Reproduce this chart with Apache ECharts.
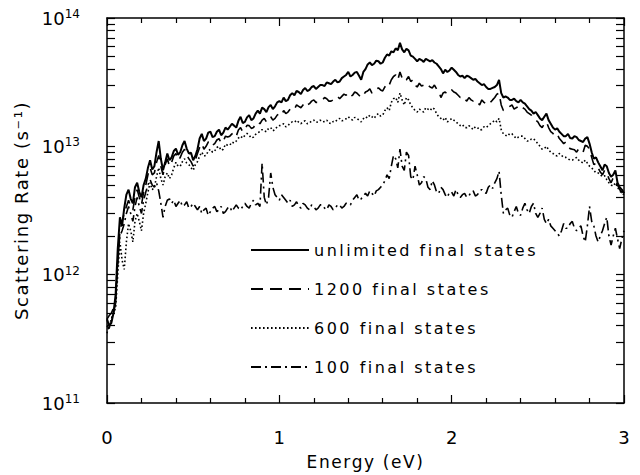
<!DOCTYPE html>
<html>
<head>
<meta charset="utf-8">
<script src="https://cdn.jsdelivr.net/npm/echarts@6/dist/echarts.min.js"></script>
<style>
  html, body { margin: 0; padding: 0; background: #fff; }
  #chart { width: 640px; height: 475px; }
</style>
</head>
<body>
<div id="chart"></div>
<script>
// Electron energy grid (eV), 12.5 meV steps
const energy = [
  0, 0.0125, 0.025, 0.0375, 0.05, 0.0625, 0.075, 0.0875,
  0.1, 0.1125, 0.125, 0.1375, 0.15, 0.1625, 0.175, 0.1875,
  0.2, 0.2125, 0.225, 0.2375, 0.25, 0.2625, 0.275, 0.2875,
  0.3, 0.3125, 0.325, 0.3375, 0.35, 0.3625, 0.375, 0.3875,
  0.4, 0.4125, 0.425, 0.4375, 0.45, 0.4625, 0.475, 0.4875,
  0.5, 0.5125, 0.525, 0.5375, 0.55, 0.5625, 0.575, 0.5875,
  0.6, 0.6125, 0.625, 0.6375, 0.65, 0.6625, 0.675, 0.6875,
  0.7, 0.7125, 0.725, 0.7375, 0.75, 0.7625, 0.775, 0.7875,
  0.8, 0.8125, 0.825, 0.8375, 0.85, 0.8625, 0.875, 0.8875,
  0.9, 0.9125, 0.925, 0.9375, 0.95, 0.9625, 0.975, 0.9875,
  1, 1.0125, 1.025, 1.0375, 1.05, 1.0625, 1.075, 1.0875,
  1.1, 1.1125, 1.125, 1.1375, 1.15, 1.1625, 1.175, 1.1875,
  1.2, 1.2125, 1.225, 1.2375, 1.25, 1.2625, 1.275, 1.2875,
  1.3, 1.3125, 1.325, 1.3375, 1.35, 1.3625, 1.375, 1.3875,
  1.4, 1.4125, 1.425, 1.4375, 1.45, 1.4625, 1.475, 1.4875,
  1.5, 1.5125, 1.525, 1.5375, 1.55, 1.5625, 1.575, 1.5875,
  1.6, 1.6125, 1.625, 1.6375, 1.65, 1.6625, 1.675, 1.6875,
  1.7, 1.7125, 1.725, 1.7375, 1.75, 1.7625, 1.775, 1.7875,
  1.8, 1.8125, 1.825, 1.8375, 1.85, 1.8625, 1.875, 1.8875,
  1.9, 1.9125, 1.925, 1.9375, 1.95, 1.9625, 1.975, 1.9875,
  2, 2.0125, 2.025, 2.0375, 2.05, 2.0625, 2.075, 2.0875,
  2.1, 2.1125, 2.125, 2.1375, 2.15, 2.1625, 2.175, 2.1875,
  2.2, 2.2125, 2.225, 2.2375, 2.25, 2.2625, 2.275, 2.2875,
  2.3, 2.3125, 2.325, 2.3375, 2.35, 2.3625, 2.375, 2.3875,
  2.4, 2.4125, 2.425, 2.4375, 2.45, 2.4625, 2.475, 2.4875,
  2.5, 2.5125, 2.525, 2.5375, 2.55, 2.5625, 2.575, 2.5875,
  2.6, 2.6125, 2.625, 2.6375, 2.65, 2.6625, 2.675, 2.6875,
  2.7, 2.7125, 2.725, 2.7375, 2.75, 2.7625, 2.775, 2.7875,
  2.8, 2.8125, 2.825, 2.8375, 2.85, 2.8625, 2.875, 2.8875,
  2.9, 2.9125, 2.925, 2.9375, 2.95, 2.9625, 2.975, 2.9875,
  3
];

// Scattering rates in units of 1e12 s^-1
const unlimited = [
  0.45, 0.40, 0.42, 0.5, 0.7, 1.6, 2.8, 2.4, 3.3, 4.2,
  4.6, 3.9, 3.6, 4.8, 5.2, 4.4, 4.0, 5.0, 5.6, 6.8,
  7.8, 6.6, 7.0, 9.0, 11, 8.0, 6.5, 7.5, 8.8, 7.8,
  8.2, 9.2, 9.6, 8.6, 9.0, 10.2, 11, 9.6, 8.8, 8.9,
  7.8, 8.4, 9.5, 11.5, 12.5, 11.0, 11.5, 12.8, 13, 11.8,
  12, 13.0, 13.5, 12.2, 12.8, 14.0, 13.5, 14.2, 15, 14.5,
  14, 15.8, 17, 15.2, 15.5, 16.8, 17.5, 16.0, 16.5, 18.0,
  19, 18.0, 20, 19.5, 18.5, 20.2, 21, 19.5, 20.5, 22.0,
  22.5, 22.0, 24, 22.5, 23, 25.0, 26, 25.0, 27, 26.5,
  25.5, 27.5, 28.5, 27.0, 27.5, 29.0, 29.5, 28.0, 29, 30.0,
  30, 29.5, 31.5, 31.0, 30.5, 32.0, 33, 31.5, 32, 34.0,
  35, 36.0, 38, 35.0, 36, 37.5, 38, 35.5, 33, 38.0,
  40, 43.5, 45, 43.0, 44, 46.5, 46, 44.0, 45, 49.0,
  52, 51.0, 55, 54.0, 58, 56.0, 64, 57.0, 54, 57.5,
  56, 51.0, 50, 48.0, 46, 48.0, 47, 45.5, 48, 47.0,
  46, 47.0, 45, 44.0, 42, 40.0, 37, 39.5, 38, 39.0,
  41, 39.5, 38, 36.0, 35, 35.5, 34, 35.5, 35, 34.0,
  33, 33.5, 32, 31.0, 30, 30.5, 29, 28.0, 28, 28.5,
  29, 30.0, 33, 26.0, 24, 24.5, 24, 23.0, 23, 23.5,
  22.5, 22.0, 23, 22.0, 21.5, 20.5, 19.5, 19.0, 18, 18.5,
  17.5, 16.5, 16, 17.0, 18, 16.0, 15, 14.0, 13.5, 13.8,
  13, 12.5, 12, 12.0, 12.5, 11.6, 11.5, 12.0, 11.8, 11.2,
  11, 10.8, 11.5, 11.8, 10.5, 9.0, 8, 8.2, 7.5, 7.0,
  6.5, 7.2, 7, 6.2, 5.8, 6.0, 6.5, 5.2, 4.8, 4.6,
  4.3
];

const states1200 = [
  0.45, 0.48, 0.5, 0.55, 0.6, 1.2, 2.2, 2.6, 3.0, 3.4,
  3.8, 3.4, 3.2, 4.0, 4.6, 4.0, 3.5, 4.4, 5.0, 6.0,
  6.8, 6.0, 6.2, 7.5, 8.5, 7.0, 6.0, 7.2, 8.0, 7.0,
  7.5, 8.4, 8.8, 7.8, 8.2, 9.0, 9.5, 8.6, 8.0, 7.6,
  7.0, 7.8, 8.8, 9.8, 10.5, 9.5, 10, 10.8, 11, 10.2,
  10.5, 11.2, 11.5, 10.6, 11, 12.0, 11.8, 12.0, 12.5, 12.8,
  12, 13.4, 14, 13.0, 13.5, 14.6, 14.5, 13.8, 14, 15.0,
  15.5, 15.0, 16, 16.5, 15.5, 16.2, 17, 16.0, 16.5, 17.5,
  18, 17.5, 19, 18.0, 18.5, 19.5, 20, 19.5, 21, 20.5,
  20, 21.0, 22, 21.0, 21.5, 22.5, 23, 22.0, 22, 22.5,
  23, 24.0, 23.5, 22.5, 22.5, 23.0, 24, 24.5, 23.5, 24.5,
  25.5, 25.0, 26, 24.5, 25, 26.5, 26, 25.0, 24, 25.0,
  26.5, 27.0, 28, 26.0, 27, 28.0, 28.5, 27.5, 27, 29.0,
  31, 30.0, 33, 35.0, 36, 33.0, 38, 34.0, 32, 33.0,
  35, 32.0, 33, 30.0, 29, 31.0, 29.5, 30.0, 31, 30.0,
  29, 28.5, 30, 28.0, 27, 24.0, 26, 26.5, 25.5, 26.5,
  27.5, 26.5, 26, 25.0, 24, 24.5, 23.5, 22.5, 24, 23.0,
  22.5, 23.0, 22, 21.0, 23, 22.0, 21.5, 22.5, 22, 23.0,
  24, 25.5, 26, 21.0, 19, 19.5, 20, 20.5, 21, 19.5,
  20, 20.5, 21, 20.0, 19.5, 18.5, 18, 17.5, 16.5, 16.0,
  15.5, 14.5, 14, 15.0, 15.5, 14.0, 13, 12.6, 12, 12.4,
  11.5, 11.0, 10.5, 10.8, 10, 9.6, 9.5, 9.4, 9.0, 9.6,
  9.2, 9.0, 10.2, 10.0, 9.5, 8.2, 7.2, 7.4, 6.8, 6.3,
  6.0, 6.5, 6.2, 5.6, 5.2, 5.7, 5.5, 5.0, 4.6, 4.4,
  4.0
];

const states600 = [
  0.35, 0.4, 0.45, 0.5, 0.55, 1.0, 1.8, 1.3, 1.1, 1.8,
  2.5, 2.2, 1.8, 2.6, 3.0, 2.6, 2.2, 3.0, 3.6, 4.4,
  5.2, 4.6, 4.8, 5.8, 6.8, 5.6, 5.0, 5.8, 6.2, 5.6,
  6.0, 6.8, 7.5, 7.0, 7.0, 7.6, 8.0, 7.4, 7.2, 6.8,
  6.5, 7.2, 7.6, 8.4, 9.0, 8.4, 8.5, 9.2, 9.5, 9.0,
  9.2, 9.8, 10, 9.3, 9.5, 10.4, 10.2, 10.2, 10.8, 10.6,
  11, 11.6, 12, 11.6, 12.2, 12.6, 12.2, 11.6, 11.8, 12.4,
  12.8, 13.0, 13.5, 13.2, 13, 13.8, 14, 13.2, 13.5, 14.2,
  14.5, 14.6, 15, 14.2, 14.5, 15.2, 15.5, 15.4, 16, 15.4,
  15, 15.6, 15.8, 15.0, 15.2, 15.8, 16, 15.4, 15.5, 16.0,
  15.5, 15.6, 16, 15.2, 15, 15.6, 15.5, 16.2, 16.5, 15.8,
  16, 16.4, 17, 16.4, 16, 16.8, 16.5, 16.0, 15.5, 16.4,
  17, 16.6, 17.5, 17.0, 16.5, 17.5, 18, 17.2, 17.5, 19.0,
  20, 19.0, 22, 23.5, 24, 22.0, 26, 23.0, 21, 24.0,
  23, 21.0, 20, 19.0, 18.5, 19.5, 19, 18.5, 20, 19.5,
  19, 20.0, 19.5, 18.0, 17, 16.5, 16, 16.8, 15.5, 16.0,
  16.5, 16.0, 15.5, 15.0, 14.5, 14.8, 14, 14.0, 14.5, 14.0,
  13.5, 14.2, 14, 13.4, 13.5, 14.2, 14, 14.5, 15, 15.4,
  16, 15.5, 16.5, 13.5, 12.5, 12.2, 12, 12.6, 12.5, 12.0,
  11.5, 11.8, 12, 12.0, 11.5, 11.0, 11, 11.4, 11.5, 11.0,
  10.5, 10.0, 9.5, 9.6, 10, 9.4, 9, 8.8, 8.5, 8.4,
  8.8, 8.5, 8.2, 8.2, 8.0, 7.8, 7.8, 8.0, 8.2, 7.8,
  7.6, 7.4, 7.8, 7.4, 7.0, 6.8, 6.5, 6.2, 6.2, 6.0,
  5.8, 5.9, 5.5, 5.2, 5.0, 4.9, 5.2, 4.8, 4.5, 4.3,
  4.2
];

const states100 = [
  0.4, 0.38, 0.45, 0.5, 0.6, 1.3, 2.0, 2.2, 2.5, 3.0,
  3.4, 3.0, 2.6, 3.4, 4.0, 3.4, 3.0, 3.8, 4.4, 5.0,
  5.5, 5.0, 4.8, 5.2, 4.5, 3.6, 2.8, 3.4, 3.8, 3.9,
  3.6, 3.8, 3.4, 3.6, 3.8, 3.4, 3.5, 3.7, 3.3, 3.4,
  3.6, 3.4, 3.2, 3.4, 3.0, 3.2, 3.3, 2.9, 3.1, 3.3,
  3.4, 3.1, 3.2, 3.4, 3.0, 3.1, 3.3, 3.4, 3.1, 3.3,
  3.5, 3.3, 3.2, 3.4, 3.6, 3.4, 3.3, 3.6, 3.8, 3.5,
  3.6, 3.4, 7.4, 4.0, 3.5, 4.0, 6.2, 4.8, 4.2, 4.0,
  3.8, 4.2, 4.0, 3.8, 3.6, 3.8, 3.4, 3.5, 3.7, 3.4,
  3.3, 3.6, 3.5, 3.3, 3.2, 3.5, 3.4, 3.2, 3.3, 3.5,
  3.5, 3.3, 3.2, 3.5, 3.4, 3.2, 3.3, 3.5, 3.5, 3.3,
  3.4, 3.6, 3.6, 3.5, 3.8, 4.0, 4.2, 3.8, 3.9, 4.1,
  4.3, 4.1, 4.5, 4.3, 4.1, 4.5, 4.6, 4.8, 5.0, 5.4,
  6.0, 5.6, 7.0, 8.5, 8.0, 6.8, 9.5, 7.0, 6.5, 9.0,
  8.5, 5.8, 5.5, 7.0, 6.0, 5.0, 5.2, 5.8, 5.6, 4.8,
  4.6, 5.4, 5.0, 4.4, 4.3, 4.8, 4.6, 4.2, 4.0, 4.4,
  4.4, 4.1, 4.6, 4.2, 4.0, 4.2, 4.3, 4.0, 4.1, 4.4,
  4.5, 4.1, 4.2, 4.5, 4.6, 4.4, 4.3, 4.8, 5.0, 4.7,
  5.2, 5.6, 6.4, 4.2, 3.0, 3.2, 3.3, 2.9, 2.8, 3.1,
  3.4, 3.0, 2.9, 3.3, 3.6, 3.2, 3.0, 3.4, 3.6, 3.0,
  2.8, 3.0, 3.3, 2.7, 2.5, 2.7, 2.4, 2.3, 2.2, 2.1,
  2.0, 2.2, 2.5, 2.3, 2.3, 2.5, 2.6, 2.3, 2.2, 2.3,
  2.4, 2.0, 1.8, 2.4, 3.4, 2.6, 2.4, 2.0, 1.8, 2.0,
  2.2, 2.5, 2.8, 2.0, 1.7, 2.0, 2.3, 1.9, 1.6, 1.9,
  2.2
];

const seriesNames = [
  'unlimited final states',
  '1200 final states',
  '600 final states',
  '100 final states'
];
const xTickLabels = [0, 1, 2, 3];
const yDecades = [1e11, 1e12, 1e13, 1e14];
const rateUnit = 1e12;
const xName = 'Energy (eV)';
const yName = 'Scattering Rate (s\u207B\u00B9)';

// log-axis tick positions: every decade plus 2..9 within it
const yTicks = [];
for (let d = 0; d < yDecades.length - 1; d++) {
  for (let m = 1; m <= 9; m++) yTicks.push(m * yDecades[d]);
}
yTicks.push(yDecades[yDecades.length - 1]);

const FONT = 'DejaVu Sans';
const INK = '#000';

function toPoints(vals) {
  return vals.map((v, i) => [energy[i], v * rateUnit]);
}

const lineStyles = [
  { width: 2.0, type: 'solid' },
  { width: 1.6, type: [12, 7] },
  { width: 1.6, type: [1.6, 2.4] },
  { width: 1.6, type: [10, 4, 2, 4] }
];
const seriesValues = [unlimited, states1200, states600, states100];

const baseX = {
  type: 'value', min: 0, max: 3, interval: 1,
  axisLine: { show: true, onZero: false, lineStyle: { color: INK, width: 1.5 } },
  axisTick: { show: true, inside: true, length: 8, lineStyle: { color: INK, width: 1.2 } },
  minorTick: { show: true, splitNumber: 5, length: 5, lineStyle: { color: INK, width: 1.2 } },
  splitLine: { show: false },
  minorSplitLine: { show: false }
};
const baseY = {
  type: 'log', logBase: 10, min: yDecades[0], max: yDecades[yDecades.length - 1],
  axisLine: { show: true, onZero: false, lineStyle: { color: INK, width: 1.5 } },
  axisTick: { show: true, inside: true, length: 8, customValues: yTicks, lineStyle: { color: INK, width: 1.2 } },
  minorTick: { show: false },
  splitLine: { show: false }
};

const chart = echarts.init(document.getElementById('chart'), null, { renderer: 'svg' });
chart.setOption({
  animation: false,
  backgroundColor: '#fff',
  grid: { left: 107, right: 16, top: 18, bottom: 72, containLabel: false },
  legend: {
    data: seriesNames,
    orient: 'vertical',
    left: 245,
    top: 237,
    itemWidth: 58,
    itemHeight: 16,
    itemGap: 23,
    itemStyle: { opacity: 0 },
    textStyle: { fontFamily: FONT, fontSize: 16, lineHeight: 16, color: INK },
    selectedMode: false
  },
  xAxis: [
    Object.assign({}, baseX, {
      position: 'bottom',
      axisLabel: {
        show: true, margin: 25, color: INK, fontFamily: FONT, fontSize: 18,
        customValues: xTickLabels
      },
      name: xName, nameLocation: 'middle', nameGap: 50,
      nameTextStyle: { fontFamily: FONT, fontSize: 17, color: INK }
    }),
    Object.assign({}, baseX, { position: 'top', axisLabel: { show: false } })
  ],
  yAxis: [
    Object.assign({}, baseY, {
      position: 'left',
      axisLabel: {
        show: true, margin: 27, color: INK, customValues: yDecades,
        formatter: v => '{b|10}{s|' + Math.round(Math.log10(v)) + '}',
        rich: {
          b: { fontFamily: FONT, fontSize: 18, color: INK, lineHeight: 20 },
          s: { fontFamily: FONT, fontSize: 12, color: INK, verticalAlign: 'top', lineHeight: 12 }
        }
      },
      name: yName, nameLocation: 'middle', nameGap: 70, nameRotate: 90,
      nameTextStyle: { fontFamily: FONT, fontSize: 18, color: INK }
    }),
    Object.assign({}, baseY, { position: 'right', axisLabel: { show: false } })
  ],
  series: seriesValues.map((vals, k) => ({
    name: seriesNames[k],
    type: 'line',
    xAxisIndex: 0,
    yAxisIndex: 0,
    data: toPoints(vals),
    symbol: 'none',
    showSymbol: false,
    smooth: false,
    color: INK,
    lineStyle: Object.assign({ color: INK }, lineStyles[k]),
    emphasis: { disabled: true }
  }))
});

// wide letter spacing of the plotter lettering
const letterSpacing = {};
seriesNames.forEach(n => { letterSpacing[n] = '2.5px'; });
letterSpacing[xName] = '1.6px';
letterSpacing[yName] = '1.6px';
function spaceOutText() {
  document.querySelectorAll('#chart svg text').forEach(t => {
    const s = letterSpacing[t.textContent];
    if (s) t.style.letterSpacing = s;
  });
}
spaceOutText();
chart.on('finished', spaceOutText);
</script>
</body>
</html>
